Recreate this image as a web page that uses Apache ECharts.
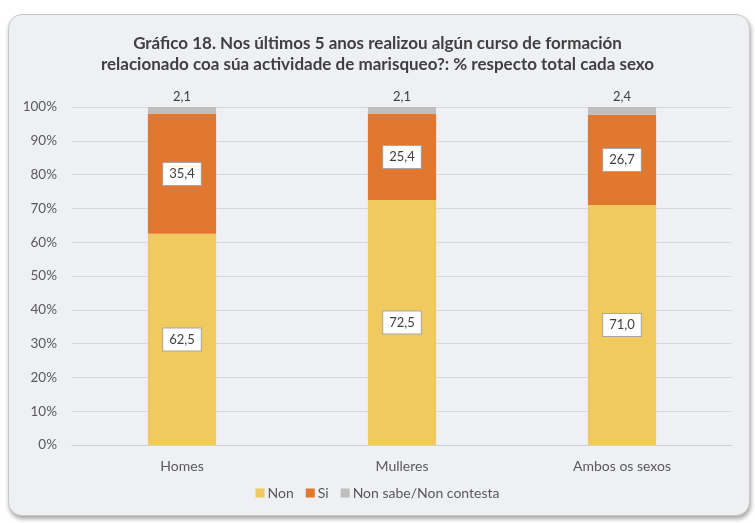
<!DOCTYPE html>
<html>
<head>
<meta charset="utf-8">
<script src="https://cdn.jsdelivr.net/npm/echarts@6/dist/echarts.min.js"></script>
<style>
	html, body { margin: 0; padding: 0; background: #ffffff; }
	.box {
		position: absolute;
		left: 8px; top: 14px;
		width: 740px; height: 500px;
		background: #eef0f4;
		border: 1px solid #c8c8c8;
		border-radius: 14px;
		box-shadow: 1px 3px 4px rgba(0,0,0,0.35);
	}
	#chart { position: absolute; left: 0; top: 0; width: 755px; height: 523px; }
</style>
</head>
<body>
<div class="box"></div>
<div id="chart"></div>
<script>
	var categories = ['Homes', 'Mulleres', 'Ambos os sexos'];
	var nonVals = [62.5, 72.5, 71.0];
	var siVals = [35.4, 25.4, 26.7];
	var nsVals = [2.1, 2.1, 2.4];
	var yTicks = [0, 10, 20, 30, 40, 50, 60, 70, 80, 90, 100];

	var fmt = function (p) { return p.value.toFixed(1).replace('.', ','); };
	var font = 'Lato, "Open Sans", sans-serif';

	var boxLabel = {
		show: true,
		position: 'inside',
		formatter: fmt,
		color: '#404040',
		fontFamily: font,
		fontSize: 13,
		backgroundColor: '#ffffff',
		borderColor: '#a6a6a6',
		borderWidth: 1,
		padding: [5, 6, 4, 6]
	};

	var myChart = echarts.init(document.getElementById('chart'));
	var option = {
		animation: false,
		color: ['#f1ca5f', '#e2772f', '#bfbfbf'],
		title: {
			text: 'Gráfico 18. Nos últimos 5 anos realizou algún curso de formación\nrelacionado coa súa actividade de marisqueo?: % respecto total cada sexo',
			left: 'center',
			top: 28,
			textStyle: {
				fontFamily: font,
				fontSize: 17,
				fontWeight: 'bold',
				color: '#404040',
				lineHeight: 21
			}
		},
		legend: {
			bottom: 18,
			left: 'center',
			itemWidth: 9,
			itemHeight: 9,
			itemGap: 12,
			icon: 'rect',
			textStyle: { fontFamily: font, fontSize: 14, color: '#595959', padding: [0, 0, 0, -2] },
			data: ['Non', 'Si', 'Non sabe/Non contesta']
		},
		grid: { left: 72, right: 23, top: 107, bottom: 78 },
		xAxis: {
			type: 'category',
			data: categories,
			axisLine: { lineStyle: { color: '#d0d0d0' } },
			axisTick: { show: false },
			axisLabel: { fontFamily: font, fontSize: 14, color: '#595959', margin: 14 }
		},
		yAxis: {
			type: 'value',
			min: yTicks[0],
			max: yTicks[yTicks.length - 1],
			interval: 10,
			axisLine: { show: false },
			axisTick: { show: false },
			splitLine: { lineStyle: { color: '#d9d9d9' } },
			axisLabel: { fontFamily: font, fontSize: 13.5, color: '#595959', margin: 15, formatter: '{value}%' }
		},
		series: [
			{ name: 'Non', type: 'bar', stack: 't', barWidth: '31%', data: nonVals, label: boxLabel },
			{ name: 'Si', type: 'bar', stack: 't', data: siVals, label: boxLabel },
			{ name: 'Non sabe/Non contesta', type: 'bar', stack: 't', data: nsVals,
				label: { show: true, position: 'top', formatter: fmt, color: '#404040', fontFamily: font, fontSize: 13, distance: 4 } }
		]
	};
	option && myChart.setOption(option);
</script>
</body>
</html>
